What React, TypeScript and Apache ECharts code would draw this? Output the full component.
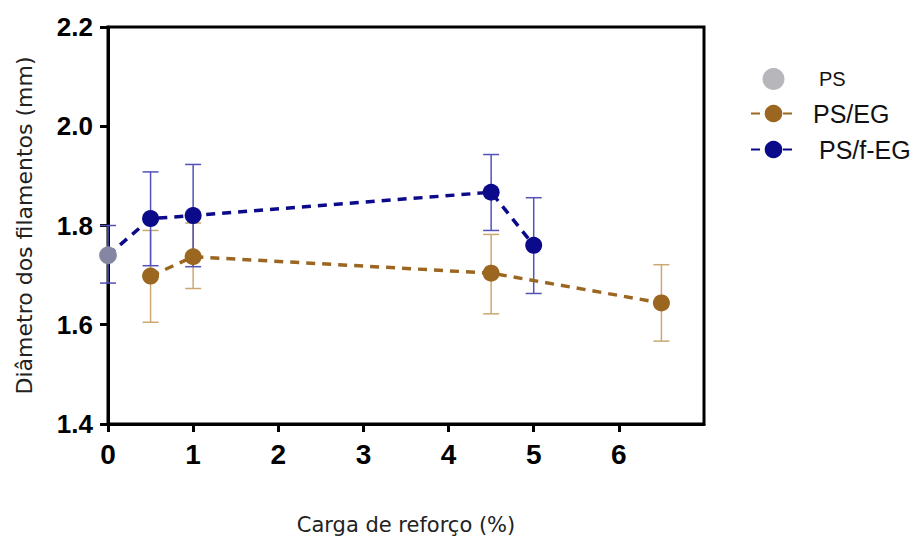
import React, { useEffect, useRef } from "react";
import * as echarts from "echarts";

const xTicks = [0, 1, 2, 3, 4, 5, 6];
const yTicks = [1.4, 1.6, 1.8, 2.0, 2.2];

const psX = [0];
const psY = [1.74];

const egX = [0.5, 1, 4.5, 6.5];
const egY = [1.698, 1.737, 1.704, 1.644];
const egLow = [1.605, 1.673, 1.622, 1.567];
const egHigh = [1.79, 1.805, 1.782, 1.721];

const fegX = [0, 0.5, 1, 4.5, 5];
const fegY = [1.74, 1.814, 1.82, 1.867, 1.76];
const fegLow = [1.684, 1.719, 1.717, 1.79, 1.663];
const fegHigh = [1.8, 1.908, 1.923, 1.943, 1.856];

const GREY = "#A4A4AA";
const BROWN = "#9A6620";
const NAVY = "#0A0A8A";
const BROWN_ERR = "#CBA872";
const NAVY_ERR = "#5252B8";

function errRender(color: string) {
  return (params: any, api: any) => {
    const x = api.value(0);
    const pLo = api.coord([x, api.value(1)]);
    const pHi = api.coord([x, api.value(2)]);
    const w = 8;
    const style = { stroke: color, lineWidth: 1.5 };
    return {
      type: "group",
      children: [
        { type: "line", shape: { x1: pLo[0], y1: pLo[1], x2: pHi[0], y2: pHi[1] }, style },
        { type: "line", shape: { x1: pHi[0] - w, y1: pHi[1], x2: pHi[0] + w, y2: pHi[1] }, style },
        { type: "line", shape: { x1: pLo[0] - w, y1: pLo[1], x2: pLo[0] + w, y2: pLo[1] }, style },
      ],
    };
  };
}

export default function App() {
  const ref = useRef<HTMLDivElement>(null);
  useEffect(() => {
    if (!ref.current) return;
    const chart = echarts.init(ref.current, null, { renderer: "svg" });
    const axisFont = "Liberation Sans, Arial, sans-serif";
    chart.setOption({
      animation: false,
      backgroundColor: "#ffffff",
      grid: {
        left: 108,
        right: 216,
        top: 27,
        bottom: 116,
        containLabel: false,
        outerBoundsMode: "none",
        show: true,
        borderColor: "#000",
        borderWidth: 3,
        backgroundColor: "transparent",
      },
      legend: {
        orient: "vertical",
        left: 745,
        top: 63,
        itemWidth: 45,
        itemHeight: 22,
        itemGap: 11,
        textStyle: { fontFamily: axisFont, fontSize: 25, color: "#111" },
        data: [
          { name: "PS", icon: "circle", textStyle: { fontSize: 20, padding: [0, 0, 0, 18] } },
          { name: "PS/EG", textStyle: { padding: [0, 0, 0, 12] } },
          { name: "PS/f-EG", textStyle: { padding: [0, 0, 0, 18] } },
        ],
      },
      xAxis: {
        type: "value",
        min: 0,
        max: 7,
        interval: 1,
        name: "Carga de reforço (%)",
        nameLocation: "middle",
        nameGap: 90,
        nameTextStyle: { fontFamily: "DejaVu Sans", fontSize: 21, color: "#222" },
        splitLine: { show: false },
        axisLine: { lineStyle: { color: "#000", width: 3 } },
        axisTick: { length: 8, lineStyle: { color: "#000", width: 3 }, customValues: xTicks },
        axisLabel: {
          customValues: xTicks,
          margin: 16,
          fontFamily: axisFont,
          fontWeight: "bold",
          fontSize: 28,
          color: "#000",
        },
      },
      yAxis: {
        type: "value",
        min: 1.4,
        max: 2.2,
        interval: 0.2,
        name: "Diâmetro dos filamentos (mm)",
        nameLocation: "middle",
        nameGap: 73,
        nameTextStyle: { fontFamily: "DejaVu Sans", fontSize: 22, color: "#222" },
        splitLine: { show: false },
        axisLine: { lineStyle: { color: "#000", width: 3 } },
        axisTick: { length: 8, lineStyle: { color: "#000", width: 3 } },
        axisLabel: {
          margin: 15,
          fontFamily: axisFont,
          fontWeight: "bold",
          fontSize: 26,
          color: "#000",
          formatter: (v: number) => v.toFixed(1),
        },
      },
      series: [
        {
          name: "PS/EG-err",
          type: "custom",
          renderItem: errRender(BROWN_ERR),
          data: egX.map((x, i) => [x, egLow[i], egHigh[i]]),
          z: 1,
          silent: true,
        },
        {
          name: "PS/f-EG-err",
          type: "custom",
          renderItem: errRender(NAVY_ERR),
          data: fegX.map((x, i) => [x, fegLow[i], fegHigh[i]]),
          z: 1,
          silent: true,
        },
        {
          name: "PS/EG",
          type: "line",
          data: egX.map((x, i) => [x, egY[i]]),
          symbol: "circle",
          symbolSize: 17,
          itemStyle: { color: BROWN },
          lineStyle: { color: BROWN, width: 3.5, type: [9, 7] },
          z: 3,
        },
        {
          name: "PS/f-EG",
          type: "line",
          data: fegX.map((x, i) => [x, fegY[i]]),
          symbol: "circle",
          symbolSize: 17,
          itemStyle: { color: NAVY },
          lineStyle: { color: NAVY, width: 3.5, type: [9, 7] },
          z: 4,
        },
        {
          name: "PS",
          type: "scatter",
          data: psX.map((x, i) => [x, psY[i]]),
          symbolSize: 18,
          itemStyle: { color: GREY },
          z: 5,
        },
      ],
    });
    return () => chart.dispose();
  }, []);
  return <div ref={ref} style={{ width: 920, height: 540, position: "absolute", left: 0, top: 0 }} />;
}
